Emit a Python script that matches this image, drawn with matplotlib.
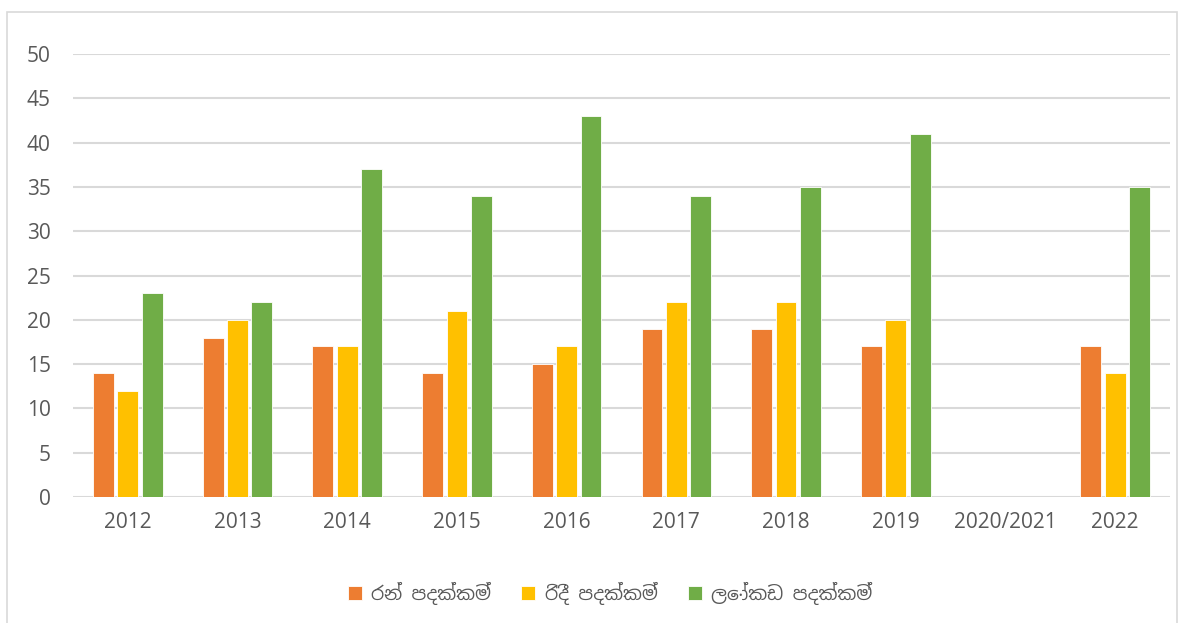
import matplotlib
matplotlib.use("Agg")
import matplotlib.pyplot as plt
import numpy as np
from matplotlib import font_manager
from matplotlib.patches import Rectangle

categories = ["2012", "2013", "2014", "2015", "2016", "2017", "2018", "2019", "2020/2021", "2022"]
gold = [14, 18, 17, 14, 15, 19, 19, 17, np.nan, 17]
silver = [12, 20, 17, 21, 17, 22, 22, 20, np.nan, 14]
bronze = [23, 22, 37, 34, 43, 34, 35, 41, np.nan, 35]
series_names = ["රන් පදක්කම්", "රිදී පදක්කම්", "ලෝකඩ පදක්කම්"]
colors = ["#ED7D31", "#FFC000", "#70AD47"]

# find any installed font that covers Sinhala
sinhala_fams = []
for f in font_manager.fontManager.ttflist:
    if "sinhala" in f.name.lower() or "iskoola" in f.name.lower():
        if f.name not in sinhala_fams:
            sinhala_fams.append(f.name)
legend_family = sinhala_fams + ["Open Sans", "DejaVu Sans"]

plt.rcParams['font.family'] = ["Open Sans", "DejaVu Sans"]

W, H = 1190, 623
fig = plt.figure(figsize=(W / 100, H / 100), dpi=100)
ax = fig.add_axes([73 / W, 1 - 497 / H, (1170 - 73) / W, (497 - 54) / H])

x = np.arange(len(categories))
bw = 0.19
offs = [-0.222, 0, 0.222]
for vals, off, c, n in zip([gold, silver, bronze], offs, colors, series_names):
    ax.bar(x + off, vals, width=bw, color=c, edgecolor="white", linewidth=0.6, label=n, zorder=3)

ax.set_xlim(-0.5, len(categories) - 0.5)
ax.set_ylim(0, 50)
ax.set_yticks(np.arange(0, 51, 5))
ax.set_xticks(x)
ax.set_xticklabels(categories)
ax.yaxis.grid(True, color="#D9D9D9", linewidth=1.5, zorder=0)
ax.set_axisbelow(True)
for s in ax.spines.values():
    s.set_visible(False)
ax.tick_params(axis="both", length=0, labelsize=15, labelcolor="#595959")
ax.tick_params(axis="y", pad=16)
ax.tick_params(axis="x", pad=11)

leg = fig.legend(loc="center", bbox_to_anchor=(610 / W, 1 - 593 / H), ncol=3, frameon=False,
                 prop={"family": legend_family, "size": 13.5}, handlelength=0.75, handleheight=0.75,
                 columnspacing=1.6, handletextpad=0.5)
for t in leg.get_texts():
    t.set_color("#595959")

fig.patches.append(Rectangle((7 / W, -0.01), (1177 - 7) / W, 1 - 12 / H + 0.01,
                             transform=fig.transFigure, fill=False, edgecolor="#D9D9D9", linewidth=1.2))

fig.savefig("out.png", dpi=100)
